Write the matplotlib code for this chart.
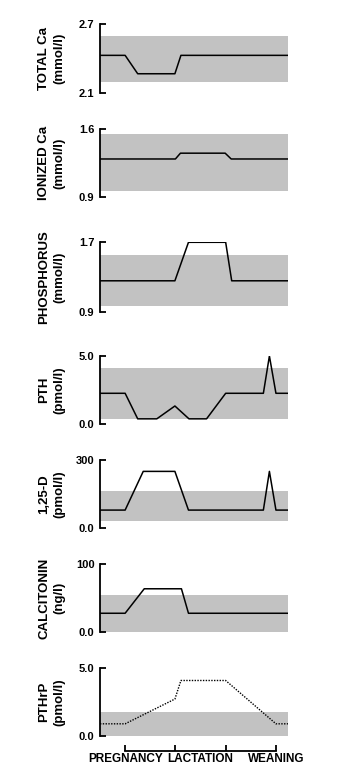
import matplotlib
matplotlib.use('Agg')
import matplotlib.pyplot as plt
from matplotlib.transforms import blended_transform_factory

plt.rcParams['font.family'] = ['Liberation Sans', 'DejaVu Sans']
plt.rcParams['font.weight'] = 'bold'

# ---------------- data ----------------
panel_labels = ["TOTAL Ca\n(mmol/l)", "IONIZED Ca\n(mmol/l)", "PHOSPHORUS\n(mmol/l)",
                "PTH\n(pmol/l)", "1,25-D\n(pmol/l)", "CALCITONIN\n(ng/l)", "PTHrP\n(pmol/l)"]
y_limits = [(2.1, 2.7), (0.9, 1.6), (0.9, 1.7), (0.0, 5.0), (0.0, 300), (0.0, 100), (0.0, 5.0)]
y_tick_labels = [("2.1", "2.7"), ("0.9", "1.6"), ("0.9", "1.7"), ("0.0", "5.0"),
                 ("0.0", "300"), ("0.0", "100"), ("0.0", "5.0")]
normal_ranges = [(2.2, 2.6), (0.96, 1.55), (0.97, 1.55), (0.4, 4.1), (30, 165), (0, 55), (0, 1.8)]

total_ca_x = [-0.5, 0.0, 0.25, 0.99, 1.11, 3.24]
total_ca_y = [2.43, 2.43, 2.27, 2.27, 2.43, 2.43]
ionized_ca_x = [-0.5, 1.0, 1.1, 1.99, 2.11, 3.24]
ionized_ca_y = [1.29, 1.29, 1.35, 1.35, 1.29, 1.29]
phosphorus_x = [-0.5, 0.99, 1.26, 2.0, 2.12, 3.24]
phosphorus_y = [1.26, 1.26, 1.7, 1.7, 1.26, 1.26]
pth_x = [-0.5, 0.0, 0.25, 0.63, 0.99, 1.27, 1.62, 2.0, 2.75, 2.87, 3.0, 3.24]
pth_y = [2.27, 2.27, 0.4, 0.4, 1.34, 0.4, 0.4, 2.27, 2.27, 5.0, 2.27, 2.27]
vitd_x = [-0.5, 0.0, 0.36, 0.99, 1.26, 2.75, 2.87, 3.0, 3.24]
vitd_y = [80, 80, 250, 250, 80, 80, 250, 80, 80]
calcitonin_x = [-0.5, 0.0, 0.38, 1.12, 1.26, 3.24]
calcitonin_y = [28, 28, 64, 64, 28, 28]
pthrp_x = [-0.5, 0.0, 0.99, 1.11, 2.0, 3.0, 3.24]
pthrp_y = [0.9, 0.9, 2.73, 4.1, 4.1, 0.9, 0.9]

series = [(total_ca_x, total_ca_y), (ionized_ca_x, ionized_ca_y), (phosphorus_x, phosphorus_y),
          (pth_x, pth_y), (vitd_x, vitd_y), (calcitonin_x, calcitonin_y), (pthrp_x, pthrp_y)]

phase_ticks = [0, 1, 2, 3]
phase_names = ["PREGNANCY", "LACTATION", "WEANING"]
phase_label_pos = [0, 1.5, 3]

# ---------------- layout ----------------
W, H = 359, 775
fig = plt.figure(figsize=(W / 100, H / 100), dpi=100)
ax_left_px, ax_right_px = 100, 288
panel_px = [(24.3, 93.3), (129, 196.7), (242.3, 312.3), (356, 424.3),
            (460, 528.3), (564.3, 632.3), (668.3, 736)]
xlim = (-0.5, 3.24)
shade = '#c2c2c2'

for i, (top, bot) in enumerate(panel_px):
    ax = fig.add_axes([ax_left_px / W, 1 - bot / H, (ax_right_px - ax_left_px) / W, (bot - top) / H])
    ax.axhspan(normal_ranges[i][0], normal_ranges[i][1], color=shade, lw=0, zorder=0)
    xs, ys = series[i]
    if i == 6:
        ax.plot(xs, ys, color='black', lw=1.0, linestyle=(0, (1, 1)), zorder=2)
    else:
        ax.plot(xs, ys, color='black', lw=1.1, zorder=2)
    ax.set_xlim(*xlim)
    ax.set_ylim(*y_limits[i])
    ax.set_yticks(list(y_limits[i]))
    ax.set_yticklabels(list(y_tick_labels[i]), fontsize=8, fontweight='bold')
    for s in ['top', 'right']:
        ax.spines[s].set_visible(False)
    ax.spines['left'].set_linewidth(1.3)
    ax.tick_params(axis='y', direction='in', length=4.5, width=1.3, pad=4)
    if i < 6:
        ax.spines['bottom'].set_visible(False)
        ax.set_xticks([])
    else:
        ax.spines['bottom'].set_position(('outward', 11))
        ax.spines['bottom'].set_bounds(0, 3)
        ax.spines['bottom'].set_linewidth(1.3)
        ax.set_xticks(phase_ticks)
        ax.set_xticklabels([])
        ax.tick_params(axis='x', direction='in', length=4.5, width=1.3)
        tr = blended_transform_factory(ax.transData, fig.transFigure)
        for name, xp in zip(phase_names, phase_label_pos):
            ax.text(xp, 1 - 759 / H, name, transform=tr, ha='center', va='center',
                    fontsize=8.5, fontweight='bold')
    ax.patch.set_alpha(0)
    fig.text(52 / W, 1 - (top + bot) / 2 / H, panel_labels[i], rotation=90, ha='center',
             va='center', fontsize=9.5, fontweight='bold', linespacing=1.4,
             multialignment='center')

fig.savefig('out.png', dpi=100)
